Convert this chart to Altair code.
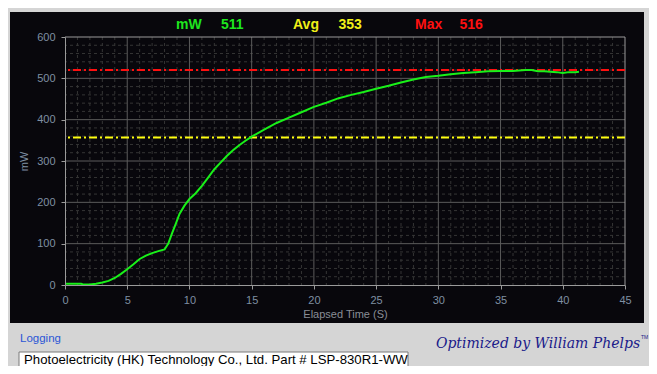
import altair as alt
import pandas as pd

# ---- data ----
time_s = [0, 0.5, 1, 1.3, 1.5, 2, 2.5, 3, 3.5, 4, 4.5, 5, 5.5, 6, 6.5, 7, 7.5, 8, 8.3, 8.6,
          8.9, 9.2, 9.6, 10, 10.5, 11, 11.5, 12, 12.5, 13, 13.5, 14, 14.5, 15, 16, 17, 18,
          19, 20, 21, 22, 23, 24, 25, 26, 27, 28, 29, 30, 31, 32, 33, 34, 35, 36, 37, 37.5,
          38, 38.5, 39, 39.5, 40, 40.5, 41, 41.3]
power_mw = [3, 3, 3, 3, 1, 1, 3, 6, 10, 17, 27, 38, 50, 63, 71, 77, 82, 86, 100, 125,
            148, 172, 192, 208, 222, 240, 260, 280, 296, 312, 326, 338, 349, 359, 376, 392, 405,
            418, 431, 441, 452, 460, 467, 475, 482, 490, 497, 503, 506, 510, 513, 515, 517, 518, 518, 520, 520,
            517, 517, 516, 515, 513, 515, 515, 516]

current_mw = 511
avg_mw = 353
max_mw = 516
max_line_level = 520
avg_line_level = 357

x_major = [0, 5, 10, 15, 20, 25, 30, 35, 40, 45]
y_major = [0, 100, 200, 300, 400, 500, 600]
x_minor = [v for v in range(0, 46) if v % 5]
y_minor = [v for v in range(0, 601, 20) if v % 100]

FONT = "Liberation Sans"
LABEL_COLOR = "#7f8fa2"

xs = alt.Scale(domain=[0, 45], nice=False, zero=False)
ys = alt.Scale(domain=[0, 600], nice=False, zero=False)

XA = alt.Axis(
    values=x_major, grid=False, tickSize=4, tickColor="#9a9a9a", domainColor="#9a9a9a",
    labelColor=LABEL_COLOR, labelFont=FONT, labelFontSize=11, labelPadding=5, labelFlush=False,
    title="Elapsed Time (S)", titleColor="#8a8e96", titleFont=FONT, titleFontSize=11,
    titleFontWeight="normal", titleBaseline="middle", titleY=29, zindex=1)
YA = alt.Axis(
    values=y_major, grid=False, tickSize=4, tickColor="#9a9a9a", domainColor="#9a9a9a",
    labelColor=LABEL_COLOR, labelFont=FONT, labelFontSize=11, labelPadding=6, labelFlush=False,
    title="mW", titleColor="#7f8fa2", titleFont=FONT, titleFontSize=11,
    titleFontWeight="normal", titleBaseline="middle", titleX=-41, titleY=124, zindex=1)


def xenc(field):
    return alt.X(field, scale=xs, axis=XA)


def yenc(field):
    return alt.Y(field, scale=ys, axis=YA)


one = pd.DataFrame({"d": [0]})

panel = alt.Chart(one).mark_rect(color="#08070c").encode(
    x=alt.value(-55), x2=alt.value(579), y=alt.value(-25), y2=alt.value(286)
)

minor_v = alt.Chart(pd.DataFrame({"v": x_minor})).mark_rule(
    color="#353535", strokeWidth=1, strokeDash=[3, 3]
).encode(x=xenc("v:Q"))

minor_h = alt.Chart(pd.DataFrame({"v": y_minor})).mark_rule(
    color="#353535", strokeWidth=1, strokeDash=[3, 3]
).encode(y=yenc("v:Q"))

major_v = alt.Chart(pd.DataFrame({"v": x_major[1:-1]})).mark_rule(
    color="#5c5c5c", strokeWidth=1
).encode(x=xenc("v:Q"))

major_h = alt.Chart(pd.DataFrame({"v": y_major[1:-1]})).mark_rule(
    color="#5c5c5c", strokeWidth=1
).encode(y=yenc("v:Q"))

frame_v = alt.Chart(pd.DataFrame({"v": [45]})).mark_rule(
    color="#9a9a9a", strokeWidth=1
).encode(x=xenc("v:Q"))

frame_h = alt.Chart(pd.DataFrame({"v": [600]})).mark_rule(
    color="#9a9a9a", strokeWidth=1
).encode(y=yenc("v:Q"))

max_rule = alt.Chart(pd.DataFrame({"v": [max_line_level]})).mark_rule(
    color="#ff1010", strokeWidth=2, strokeDash=[8, 3, 2, 3]
).encode(y=yenc("v:Q"))

avg_rule = alt.Chart(pd.DataFrame({"v": [avg_line_level]})).mark_rule(
    color="#ffff10", strokeWidth=2, strokeDash=[8, 3, 2, 3]
).encode(y=yenc("v:Q"))

df = pd.DataFrame({"t": time_s, "mw": power_mw})
line = alt.Chart(df).mark_line(color="#19f019", strokeWidth=2).encode(
    x=xenc("t:Q"), y=yenc("mw:Q")
)


def label(text, x, y, color, size=14, weight="bold", font=FONT, align="left", style="normal"):
    return alt.Chart(one).mark_text(
        text=text, color=color, fontSize=size, fontWeight=weight, font=font,
        align=align, baseline="middle", fontStyle=style
    ).encode(x=alt.value(x), y=alt.value(y))


header = [
    label("mW", 111, -12, "#1ee61e"),
    label(str(current_mw), 156, -12, "#1ee61e"),
    label("Avg", 228, -12, "#f0f018"),
    label(str(avg_mw), 273.5, -12, "#f0f018"),
    label("Max", 350, -12, "#ff1010"),
    label(str(max_mw), 394.5, -12, "#ff1010"),
]

textbox = alt.Chart(one).mark_rect(fill="white", stroke="#7a7a7a", strokeWidth=1).encode(
    x=alt.value(-46), x2=alt.value(343), y=alt.value(315), y2=alt.value(345)
)

footer = [
    label("Logging", -45, 302, "#2b55d6", size=11.5, weight="normal"),
    textbox,
    label("Photoelectricity (HK) Technology Co., Ltd. Part # LSP-830R1-WW", -41, 323, "#000000",
          size=13.2, weight="normal"),
    label("Optimized by William Phelps", 473, 307, "#1a1a8a", size=14, weight="normal",
          font="DejaVu Serif", align="center", style="italic"),
    label("TM", 576, 300, "#1a1a8a", size=5, weight="normal"),
]

chart = alt.layer(
    panel, minor_v, minor_h, major_v, major_h, frame_v, frame_h,
    max_rule, avg_rule, line, *header, *footer
).properties(
    width=560, height=248,
    autosize=alt.AutoSizeParams(type="none"),
    padding={"left": 57, "top": 29, "right": 24, "bottom": 81},
    background="#d5d5d5",
).configure_view(strokeWidth=0)

chart.save("out.html", embed_options={"renderer": "svg", "actions": False})
